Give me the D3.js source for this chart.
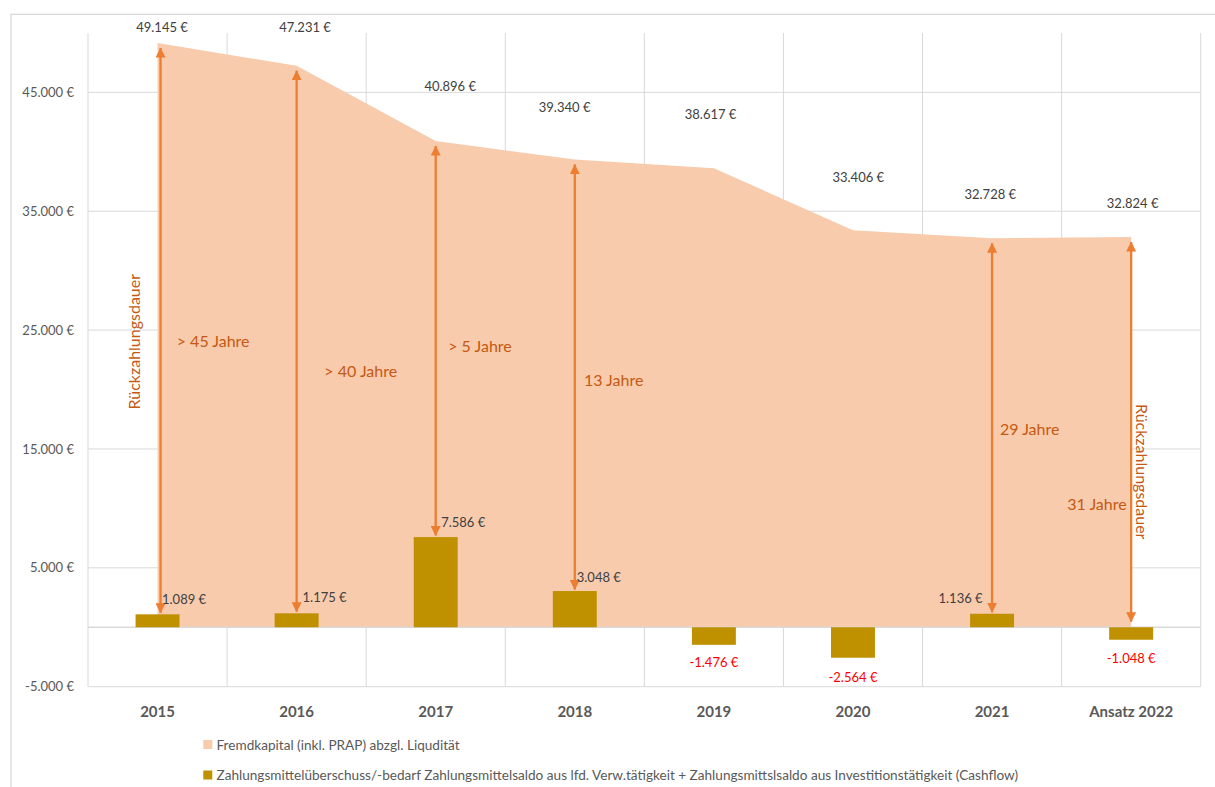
<!DOCTYPE html>
<html>
<head>
<meta charset="utf-8">
<script src="https://cdn.jsdelivr.net/npm/d3@7"></script>
<style>
  html, body { margin: 0; padding: 0; background: #fff; }
  svg { display: block; font-family: Lato, "Open Sans", sans-serif; }
</style>
</head>
<body>
<svg id="chart" width="1215" height="787"></svg>
<script>
// ---------- data ----------
const categories = ["2015", "2016", "2017", "2018", "2019", "2020", "2021", "Ansatz 2022"];
const fremdkapital = [49145, 47231, 40896, 39340, 38617, 33406, 32728, 32824];
const cashflow = [1089, 1175, 7586, 3048, -1476, -2564, 1136, -1048];
const yTicks = [-5000, 5000, 15000, 25000, 35000, 45000];
const durationLabels = ["> 45 Jahre", "> 40 Jahre", "> 5 Jahre", "13 Jahre", null, null, "29 Jahre", "31 Jahre"];
const arrowCategories = ["2015", "2016", "2017", "2018", "2021", "Ansatz 2022"];
const legendLabels = [
  "Fremdkapital (inkl. PRAP) abzgl. Liqudität",
  "Zahlungsmittelüberschuss/-bedarf Zahlungsmittelsaldo aus lfd. Verw.tätigkeit + Zahlungsmittslsaldo aus Investitionstätigkeit (Cashflow)"
];
const axisTitle = "Rückzahlungsdauer";

// ---------- layout (manual label placement as in the original) ----------
const areaLabelShift = [[4.5, -16.4], [8.4, -39.1], [14.5, -55.1], [-10.2, -52.9], [-3.3, -53.9], [5.3, -53.5], [-1.8, -44.2], [1.5, -33.8]];
const barLabelShift = [[26.5, -15], [28, -16.6], [27.5, -15.4], [24, -14.4], [0, 17.5], [0, 19], [-31.5, -15.5], [0, 18]];
const durationPos = [[19.2, 340, "start"], [27.7, 370, "start"], [12.5, 345.7, "start"], [9.1, 379.3, "start"], null, null, [7.9, 428.3, "start"], [-4.5, 503.3, "end"]];
const arrowDx = {"2015": 3};

const plot = {left: 88, right: 1200.7, top: 32.9, bottom: 686.7};

const svg = d3.select("#chart");

// outer frame (cropped on right/bottom like the original)
svg.append("rect").attr("x", 11).attr("y", 14.3).attr("width", 1230).attr("height", 800)
  .attr("fill", "none").attr("stroke", "#D9D9D9").attr("stroke-width", 1.3);

const x = d3.scaleBand().domain(categories).range([plot.left, plot.right]).padding(0);
const y = d3.scaleLinear().domain([-5000, 50000]).range([plot.bottom, plot.top]);
const cx = c => x(c) + x.bandwidth() / 2;

const grid = svg.append("g").attr("stroke", "#D9D9D9").attr("stroke-width", 1);
yTicks.forEach(t => {
  grid.append("line").attr("x1", plot.left).attr("x2", plot.right).attr("y1", y(t)).attr("y2", y(t));
});
categories.forEach(c => {
  grid.append("line").attr("x1", x(c)).attr("x2", x(c)).attr("y1", plot.top).attr("y2", plot.bottom);
});
grid.append("line").attr("x1", plot.right).attr("x2", plot.right).attr("y1", plot.top).attr("y2", plot.bottom);

// number format: German thousands separator, hyphen minus, euro sign
const fmt = v => d3.format(",")(v).replace(/,/g, ".").replace(/\u2212/g, "-") + " €";
const yAxis = d3.axisLeft(y).tickValues(yTicks).tickSize(0).tickPadding(14).tickFormat(v => fmt(v));
const yg = svg.append("g").attr("transform", `translate(${plot.left},0)`).call(yAxis);
yg.select(".domain").remove();
yg.selectAll("text").attr("font-family", "Lato").attr("font-size", 13).attr("fill", "#595959");

// area
const areaData = categories.map((c, i) => ({c, v: fremdkapital[i]}));
svg.append("path").datum(areaData)
  .attr("fill", "#F8CBAD")
  .attr("d", d3.area().x(d => cx(d.c)).y0(y(0)).y1(d => y(d.v)));

// zero axis line
svg.append("line").attr("x1", plot.left).attr("x2", plot.right).attr("y1", y(0)).attr("y2", y(0))
  .attr("stroke", "#D9D9D9").attr("stroke-width", 1.3);

// bars
const barW = x.bandwidth() * 0.316;
svg.append("g").selectAll("rect").data(categories).join("rect")
  .attr("x", c => cx(c) - barW / 2)
  .attr("y", (c, i) => y(Math.max(0, cashflow[i])))
  .attr("width", barW)
  .attr("height", (c, i) => Math.abs(y(cashflow[i]) - y(0)))
  .attr("fill", "#BF9000");

// arrows
const defs = svg.append("defs");
defs.append("marker").attr("id", "ah").attr("viewBox", "0 0 10 10")
  .attr("refX", 9.5).attr("refY", 5).attr("markerWidth", 10).attr("markerHeight", 10)
  .attr("markerUnits", "userSpaceOnUse").attr("orient", "auto-start-reverse")
  .append("path").attr("d", "M0,0 L10,5 L0,10 Z").attr("fill", "#ED7D31");

svg.append("g").selectAll("line").data(arrowCategories).join("line")
  .attr("x1", c => cx(c) + (arrowDx[c] || 0))
  .attr("x2", c => cx(c) + (arrowDx[c] || 0))
  .attr("y1", c => y(fremdkapital[categories.indexOf(c)]) + 5)
  .attr("y2", c => {
    const b = cashflow[categories.indexOf(c)];
    return b > 0 ? y(b) - 1.5 : y(0) - 5.5;
  })
  .attr("stroke", "#ED7D31").attr("stroke-width", 2.3)
  .attr("marker-start", "url(#ah)").attr("marker-end", "url(#ah)");

// area value labels
svg.append("g").selectAll("text").data(categories).join("text")
  .attr("x", (c, i) => cx(c) + areaLabelShift[i][0])
  .attr("y", (c, i) => y(fremdkapital[i]) + areaLabelShift[i][1])
  .attr("text-anchor", "middle").attr("dominant-baseline", "central")
  .attr("font-size", 13).attr("fill", "#404040")
  .text((c, i) => fmt(fremdkapital[i]));

// bar value labels
svg.append("g").selectAll("text").data(categories).join("text")
  .attr("x", (c, i) => cx(c) + barLabelShift[i][0])
  .attr("y", (c, i) => y(cashflow[i]) + barLabelShift[i][1])
  .attr("text-anchor", "middle").attr("dominant-baseline", "central")
  .attr("font-size", 13).attr("fill", (c, i) => cashflow[i] < 0 ? "#FF0000" : "#404040")
  .text((c, i) => fmt(cashflow[i]));

// duration labels
svg.append("g").selectAll("text").data(categories.filter((c, i) => durationLabels[i])).join("text")
  .each(function (c) {
    const i = categories.indexOf(c);
    const p = durationPos[i];
    d3.select(this).attr("x", cx(c) + p[0]).attr("y", p[1]).attr("text-anchor", p[2]);
  })
  .attr("dominant-baseline", "central")
  .attr("font-size", 16).attr("fill", "#C65911")
  .text(c => durationLabels[categories.indexOf(c)]);

// rotated titles
svg.append("text").attr("transform", "translate(133.3,341.7) rotate(-90)")
  .attr("text-anchor", "middle").attr("dominant-baseline", "central")
  .attr("font-size", 16).attr("fill", "#C65911").text(axisTitle);
svg.append("text").attr("transform", "translate(1142.7,471.7) rotate(90)")
  .attr("text-anchor", "middle").attr("dominant-baseline", "central")
  .attr("font-size", 16).attr("fill", "#C65911").text(axisTitle);

// x axis labels
const xAxis = d3.axisBottom(x).tickSize(0).tickPadding(0);
const xg = svg.append("g").attr("transform", `translate(0,${plot.bottom})`).call(xAxis);
xg.select(".domain").remove();
xg.selectAll("text").attr("y", 24).attr("dy", null).attr("dominant-baseline", "central")
  .attr("font-family", "Lato").attr("font-size", 15).attr("font-weight", "bold").attr("fill", "#595959");

// legend
const legendColors = ["#F8CBAD", "#BF9000"];
const lg = svg.append("g");
legendLabels.forEach((t, i) => {
  const cy = 744.5 + i * 30.5;
  lg.append("rect").attr("x", 203.3).attr("y", cy - 4.5).attr("width", 9).attr("height", 9).attr("fill", legendColors[i]);
  lg.append("text").attr("x", 216.5).attr("y", cy).attr("dominant-baseline", "central")
    .attr("font-size", 13.6).attr("fill", "#595959").text(t);
});
</script>
</body>
</html>
